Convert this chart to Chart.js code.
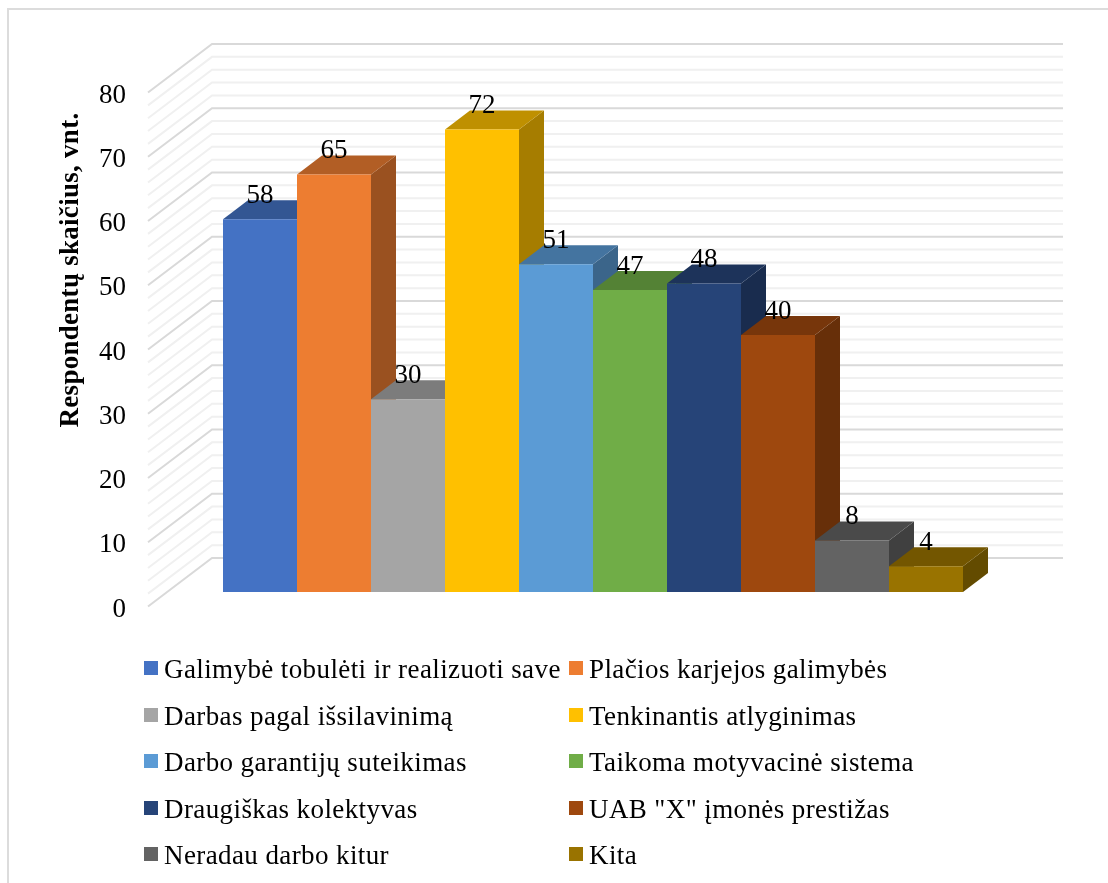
<!DOCTYPE html>
<html lang="lt">
<head>
<meta charset="utf-8">
<title>Respondentų skaičius</title>
<script src="https://cdn.jsdelivr.net/npm/chart.js@4"></script>
<style>
  html, body { margin: 0; padding: 0; background: #fff; overflow: hidden; }
  #page { position: relative; width: 1108px; height: 883px; overflow: hidden; }
  #frame { position: absolute; left: 7px; top: 8px; width: 1200px; height: 1000px; border: 2px solid #dcdcdc; box-sizing: border-box; }
  #chart { position: absolute; left: 0; top: 0; }
  #legend { position: absolute; left: 0; top: 0; font-family: "Liberation Serif", serif; font-size: 27px; letter-spacing: 0.4px; color: #000; }
  .item { position: absolute; white-space: nowrap; line-height: 28px; height: 28px; }
  .item i { position: absolute; left: 1px; top: 6px; width: 14px; height: 14px; }
  .item span { position: absolute; left: 21px; top: 0; }
</style>
</head>
<body>
<div id="page">
  <div id="frame"></div>
  <canvas id="chart" width="1108" height="883"></canvas>
  <div id="legend"></div>
</div>
<script>
const seriesNames = [
    'Galimybė tobulėti ir realizuoti save',
    'Plačios karjejos galimybės',
    'Darbas pagal išsilavinimą',
    'Tenkinantis atlyginimas',
    'Darbo garantijų suteikimas',
    'Taikoma motyvacinė sistema',
    'Draugiškas kolektyvas',
    'UAB "X" įmonės prestižas',
    'Neradau darbo kitur',
    'Kita'
];
const seriesValues = [58, 65, 30, 72, 51, 47, 48, 40, 8, 4];
const seriesColors = [
    '#4472C4', '#ED7D31', '#A5A5A5', '#FFC000', '#5B9BD5',
    '#70AD47', '#264478', '#9E480E', '#636363', '#997300'
];
const axisTitle = 'Respondentų skaičius, vnt.';

// depth of the bars and of the floor/walls around the bar plane
const BAR_DX = 25, BAR_DY = 19;
const FRONT_DX = -19.5, FRONT_DY = 14.5;
const BACK_DX = 44.5, BACK_DY = -34;

function shade(hex, k) {
    const n = parseInt(hex.slice(1), 16);
    const r = Math.round((n >> 16 & 255) * k);
    const g = Math.round((n >> 8 & 255) * k);
    const b = Math.round((n & 255) * k);
    return `rgb(${r},${g},${b})`;
}

function poly(ctx, pts, color) {
    ctx.fillStyle = color;
    ctx.beginPath();
    pts.forEach((p, i) => i ? ctx.lineTo(p[0], p[1]) : ctx.moveTo(p[0], p[1]));
    ctx.closePath();
    ctx.fill();
}

const wallsPlugin = {
    id: 'walls',
    beforeDatasetsDraw(chart) {
        const ctx = chart.ctx;
        const area = chart.chartArea;
        const y = chart.scales.y;
        ctx.save();
        ctx.lineWidth = 2;
        // every 2 units a faint line, every 10 a stronger one
        for (let v = 0; v <= 80; v += 2) {
            const py = y.getPixelForValue(v);
            ctx.strokeStyle = v % 10 === 0 ? '#d9d9d9' : '#f0f0f0';
            ctx.beginPath();
            ctx.moveTo(area.left + FRONT_DX, py + FRONT_DY);
            ctx.lineTo(area.left + BACK_DX, py + BACK_DY);
            ctx.lineTo(area.right + BACK_DX, py + BACK_DY);
            ctx.stroke();
        }
        // top and side faces, left to right, the fronts are the real bars on top of them
        chart.data.datasets.forEach((ds, i) => {
            const bar = chart.getDatasetMeta(i).data[0];
            const l = bar.x - bar.width / 2, r = bar.x + bar.width / 2;
            const t = bar.y, b = bar.base;
            poly(ctx, [[r, t], [r + BAR_DX, t - BAR_DY], [r + BAR_DX, b - BAR_DY], [r, b]], shade(ds.backgroundColor, 0.65));
            poly(ctx, [[l, t], [r, t], [r + BAR_DX, t - BAR_DY], [l + BAR_DX, t - BAR_DY]], shade(ds.backgroundColor, 0.75));
        });
        ctx.restore();
    },
    afterDatasetsDraw(chart) {
        const ctx = chart.ctx;
        ctx.save();
        ctx.fillStyle = '#000';
        ctx.font = '27px "Liberation Serif"';
        ctx.textAlign = 'center';
        ctx.textBaseline = 'alphabetic';
        chart.data.datasets.forEach((ds, i) => {
            const bar = chart.getDatasetMeta(i).data[0];
            ctx.fillText(ds.data[0], bar.x, bar.y - 16.5);
        });
        // axis title sits higher than the middle of the axis
        ctx.font = 'bold 27px "Liberation Serif"';
        ctx.letterSpacing = '0.28px';
        ctx.translate(71, 270);
        ctx.rotate(-Math.PI / 2);
        ctx.textBaseline = 'middle';
        ctx.fillText(axisTitle, 0, 0);
        ctx.restore();
    }
};

const chart = new Chart(document.getElementById('chart'), {
    type: 'bar',
    data: {
        labels: [''],
        datasets: seriesNames.map((name, i) => ({
            label: name,
            data: [seriesValues[i]],
            backgroundColor: seriesColors[i],
            borderWidth: 0,
            barPercentage: 1,
            categoryPercentage: 740 / 851
        }))
    },
    options: {
        responsive: false,
        animation: false,
        layout: {
            autoPadding: false,
            padding: { left: 0, top: 78, right: 89.5, bottom: 291 }
        },
        plugins: {
            legend: { display: false },
            tooltip: { enabled: false }
        },
        scales: {
            x: { display: false },
            y: {
                min: 0,
                max: 80,
                afterFit(scale) { scale.width = 167.5; },
                grid: { display: false, drawTicks: false },
                border: { display: false },
                ticks: {
                    stepSize: 10,
                    padding: 41.5,
                    labelOffset: FRONT_DY + 3,
                    color: '#000',
                    font: { family: '"Liberation Serif"', size: 27 }
                }
            }
        }
    },
    plugins: [wallsPlugin]
});

// two column legend under the plot
const legendBox = document.getElementById('legend');
const legendColumns = [143, 568];
const legendRows = [655, 702, 748, 795, 841];
chart.data.datasets.forEach((ds, i) => {
    const item = document.createElement('div');
    item.className = 'item';
    item.style.left = legendColumns[i % 2] + 'px';
    item.style.top = legendRows[Math.floor(i / 2)] + 'px';
    item.innerHTML = `<i style="background:${ds.backgroundColor}"></i><span></span>`;
    item.querySelector('span').textContent = ds.label;
    legendBox.appendChild(item);
});
</script>
</body>
</html>
